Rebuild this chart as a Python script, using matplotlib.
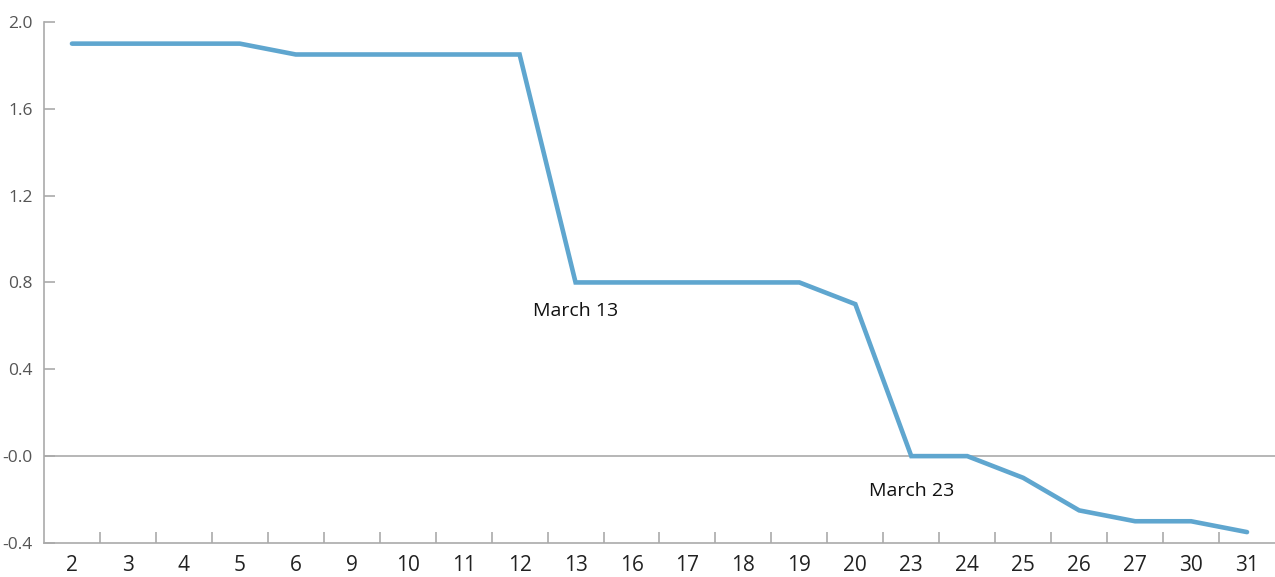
import matplotlib
matplotlib.use('Agg')
import matplotlib.pyplot as plt
import numpy as np

days = ['2', '3', '4', '5', '6', '9', '10', '11', '12', '13', '16',
        '17', '18', '19', '20', '23', '24', '25', '26', '27', '30', '31']
rate = [1.9, 1.9, 1.9, 1.9, 1.85, 1.85, 1.85, 1.85, 1.85, 0.8, 0.8,
        0.8, 0.8, 0.8, 0.7, 0.0, 0.0, -0.1, -0.25, -0.3, -0.3, -0.35]
yticks = [-0.4, 0.0, 0.4, 0.8, 1.2, 1.6, 2.0]
ylabels = ['-0.4', '-0.0', '0.4', '0.8', '1.2', '1.6', '2.0']

plt.rcParams['font.family'] = ['Open Sans', 'DejaVu Sans']

fig = plt.figure(figsize=(12.75, 5.77), dpi=100)
ax = fig.add_axes([0.0345, 0.059, 0.9655, 0.903])

x = np.arange(len(days))
ax.plot(x, rate, color='#5fa6cf', lw=3.3, solid_joinstyle='miter', solid_capstyle='round', zorder=3)
ax.axhline(0, color='#aaaaaa', lw=1.2, zorder=1)

ax.set_xlim(-0.5, len(days) - 0.5)
ax.set_ylim(-0.4, 2.0)

ax.set_xticks(x)
ax.set_xticklabels(days)
ax.set_xticks(x[:-1] + 0.5, minor=True)
ax.tick_params(axis='x', which='major', length=0, pad=9, labelsize=15, labelcolor='#222222')
ax.tick_params(axis='x', which='minor', length=8, direction='in', color='#aaaaaa', width=1.2)

ax.set_yticks(yticks)
ax.set_yticklabels(ylabels)
ax.tick_params(axis='y', length=8, direction='in', color='#aaaaaa', width=1.2,
               pad=8, labelsize=12.5, labelcolor='#555555')

for s in ['top', 'right']:
    ax.spines[s].set_visible(False)
for s in ['left', 'bottom']:
    ax.spines[s].set_color('#aaaaaa')
    ax.spines[s].set_linewidth(1.2)

ax.text(9, 0.67, 'March 13', ha='center', va='center', fontsize=14, color='#111111')
ax.text(15, -0.16, 'March 23', ha='center', va='center', fontsize=14, color='#111111')

fig.savefig('out.png', dpi=100)
